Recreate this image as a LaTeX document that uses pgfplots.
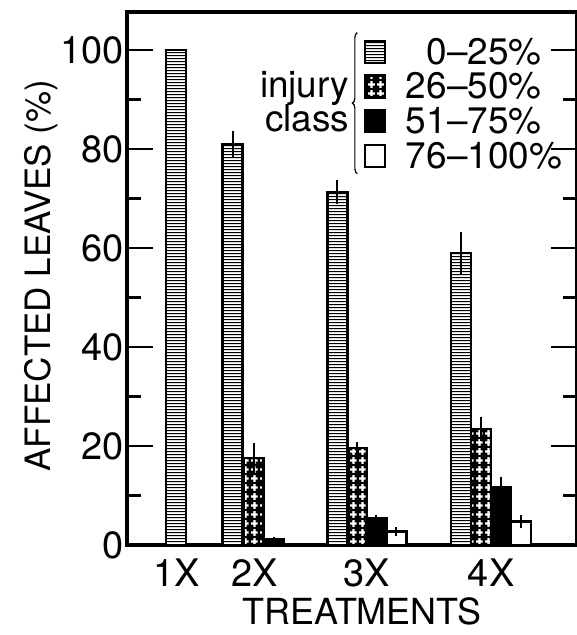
\documentclass[border=0pt]{standalone}
\usepackage{fontspec}
\setmainfont{TeX Gyre Heros}
\usepackage{pgfplots}
\pgfplotsset{compat=1.18}
\usetikzlibrary{patterns,decorations.pathreplacing}

\pgfdeclarepatternformonly{hl}{\pgfpointorigin}{\pgfqpoint{100pt}{2.8pt}}{\pgfqpoint{100pt}{2.8pt}}{%
  \pgfsetlinewidth{1.1pt}\pgfpathmoveto{\pgfqpoint{0pt}{1.4pt}}\pgfpathlineto{\pgfqpoint{100pt}{1.4pt}}\pgfusepath{stroke}}
\pgfdeclarepatternformonly{wcross}{\pgfpointorigin}{\pgfqpoint{9pt}{9pt}}{\pgfqpoint{9pt}{9pt}}{%
  \pgfsetlinewidth{2.2pt}%
  \pgfpathmoveto{\pgfqpoint{4.5pt}{1.2pt}}\pgfpathlineto{\pgfqpoint{4.5pt}{7.8pt}}%
  \pgfpathmoveto{\pgfqpoint{1.2pt}{4.5pt}}\pgfpathlineto{\pgfqpoint{7.8pt}{4.5pt}}\pgfusepath{stroke}}

\newcommand{\tickfont}{\fontsize{38bp}{40bp}\selectfont}
\newcommand{\legfont}{\fontsize{37bp}{39bp}\selectfont}

\pgfplotstableread{
x y e
176.5 100 0
233 81 2.7
338 71.3 2.4
462 59 4.2
}\classA
\pgfplotstableread{
x y e
254 17.6 3
357.5 19.6 1.2
482 23.4 2.5
}\classB
\pgfplotstableread{
x y e
274 1.2 0.5
377 5.3 0.8
502 11.7 2.1
}\classC
\pgfplotstableread{
x y e
397 2.7 0.9
522 4.7 1.3
}\classD

\begin{document}
\begin{tikzpicture}
\begin{axis}[
  scale only axis,
  width=451bp, height=534bp,
  xmin=127, xmax=578,
  ymin=0, ymax=107.7,
  axis line style={line width=4pt},
  ytick={0,20,40,60,80,100},
  minor ytick={10,30,50,70,90},
  ytick pos=both, yticklabel pos=left,
  tick align=inside,
  major tick length=26bp, minor tick length=14bp,
  every tick/.style={line width=2.5pt, black},
  xtick={177,255,367,492},
  xticklabels={1X,2X,3X,4X},
  xtick style={draw=none},
  /pgf/number format/assume math mode=true,
  yticklabel style={font=\tickfont, inner sep=2bp, xshift=-1bp},
  xticklabel style={font=\tickfont, inner sep=2bp, yshift=14bp},
  xlabel={TREATMENTS},
  ylabel={AFFECTED LEAVES (\%)},
  xlabel style={font=\fontsize{36bp}{38bp}\selectfont, at={(axis description cs:0.523,-0.124)}, anchor=center},
  ylabel style={font=\fontsize{35bp}{37bp}\selectfont, at={(axis description cs:-0.19,0.505)}, anchor=center},
  ybar, bar width=20, bar shift=0,
  clip=false,
  legend style={draw=none, fill=none, at={(axis description cs:0.5255,0.955)}, anchor=north west,
    font=\legfont, row sep=3bp, inner sep=0pt,
    /tikz/every odd column/.append style={column sep=18bp}},
  legend cell align=left,
  legend image code/.code={\draw[#1, line width=2.5pt] (0bp,-11bp) rectangle (20bp,11bp);},
]
\addplot[draw=black, line width=2.5pt, fill=white, postaction={pattern=hl, pattern color=black},
  error bars/y dir=both, error bars/y explicit, error bars/error mark=none,
  error bars/error bar style={line width=2pt, black}]
  table[x=x, y=y, y error=e]{\classA};
\addplot[draw=black, line width=2.5pt, fill=black, postaction={pattern=wcross, pattern color=white},
  error bars/y dir=both, error bars/y explicit, error bars/error mark=none,
  error bars/error bar style={line width=2pt, black}]
  table[x=x, y=y, y error=e]{\classB};
\addplot[draw=black, line width=2.5pt, fill=black,
  error bars/y dir=both, error bars/y explicit, error bars/error mark=none,
  error bars/error bar style={line width=2pt, black}]
  table[x=x, y=y, y error=e]{\classC};
\addplot[draw=black, line width=2.5pt, fill=white,
  error bars/y dir=both, error bars/y explicit, error bars/error mark=none,
  error bars/error bar style={line width=2pt, black}]
  table[x=x, y=y, y error=e]{\classD};
\legend{\phantom{2}0--25\%, 26--50\%, 51--75\%, 76--100\%}
\node[anchor=base east, font=\legfont, inner sep=0pt] at (axis cs:350,90.5) {injury};
\node[anchor=base east, font=\legfont, inner sep=0pt] at (axis cs:350,83.5) {class};
\draw[line width=1.2pt, decorate, decoration={brace, amplitude=5pt}] (axis cs:358,75) -- (axis cs:358,103.5);
\coordinate (bl) at (axis cs:0,-18.2);
\coordinate (tr) at (axis cs:578,110.1);
\end{axis}
\pgfresetboundingbox
\path (bl) rectangle (tr);
\end{tikzpicture}
\end{document}
